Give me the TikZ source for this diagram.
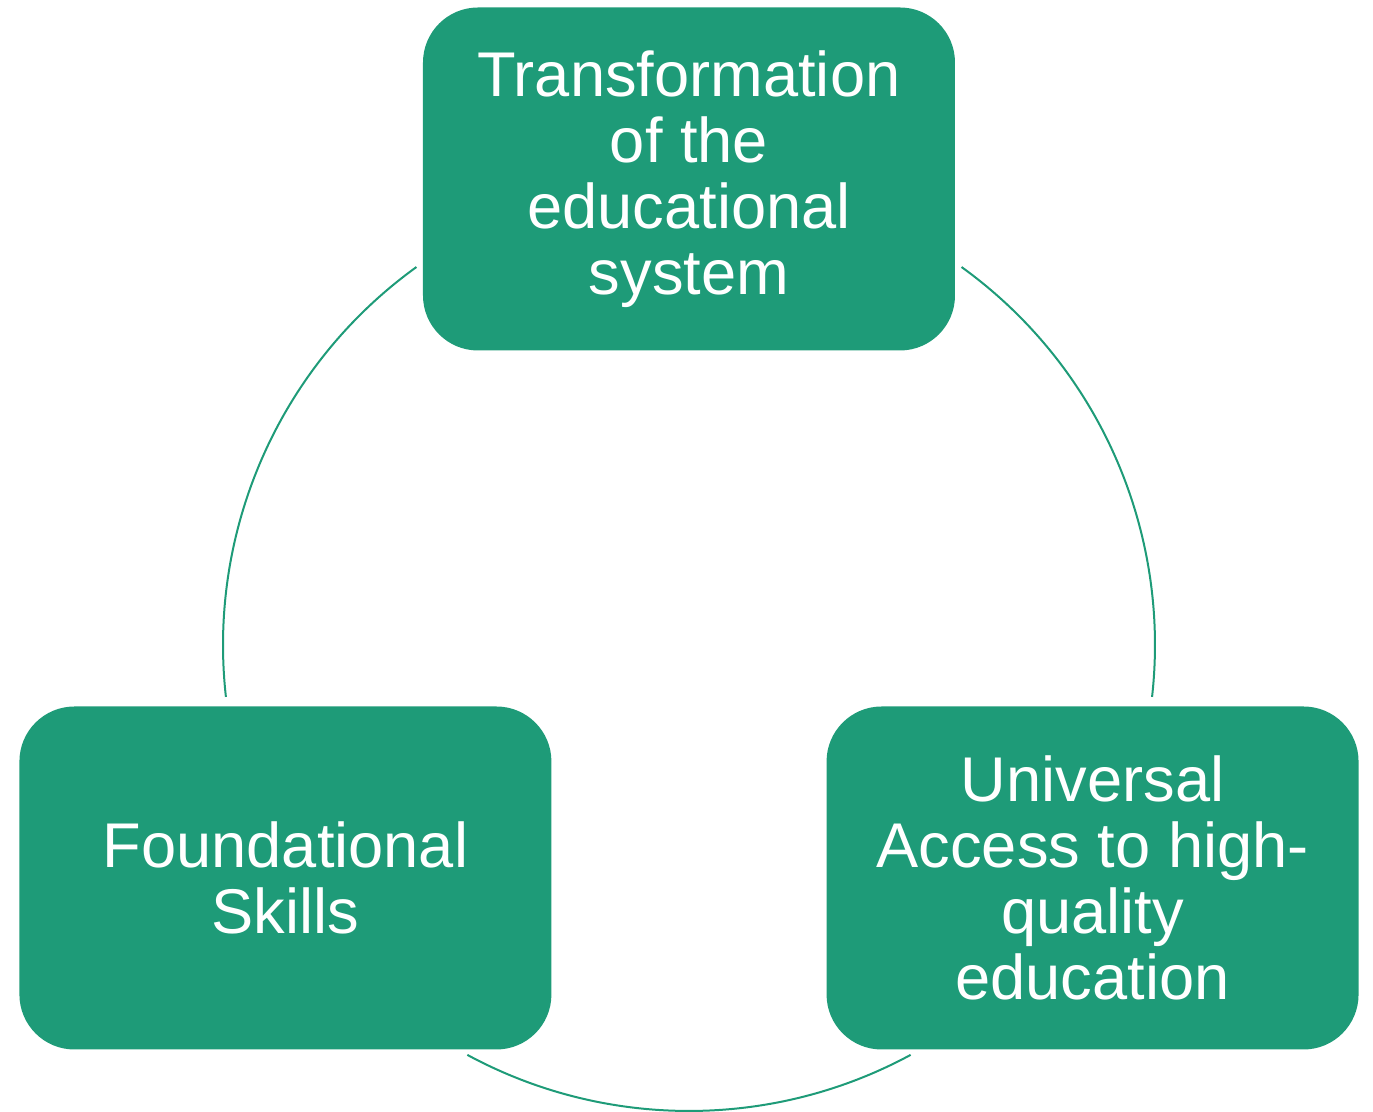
\documentclass[tikz,border=0pt]{standalone}
\usepackage{fontspec}
\setmainfont{Liberation Sans}
\usetikzlibrary{positioning}
\definecolor{cyclegreen}{HTML}{1E9B78}
\tikzset{
  cyclebox/.style={fill=cyclegreen, text=white, rounded corners=27.5pt,
    minimum width=266pt, minimum height=171.5pt, inner sep=0pt,
    align=center, font=\fontsize{31.6}{33}\selectfont},
  cyclearc/.style={draw=cyclegreen, line width=1pt}
}
\begin{document}
\begin{tikzpicture}
\newcommand\R{233pt}
\useasboundingbox (-344.5pt,-233.5pt) rectangle (342pt,322.5pt);
\coordinate (ctr) at (0,0);

% the three stages
\node[cyclebox] (system) at (90:\R) {Transformation\\of the\\educational\\system};
\node[cyclebox] (skills) at (210:\R) {Foundational\\Skills};
\node[cyclebox] (access) at (330:\R) {Universal\\Access to high-\\quality\\education};

% arcs of the cycle
\draw[cyclearc] (ctr) ++(125.8:\R) arc[start angle=125.8, end angle=186.4, radius=\R];
\draw[cyclearc] (ctr) ++(54.2:\R) arc[start angle=54.2, end angle=-6.4, radius=\R];
\draw[cyclearc] (ctr) ++(241.6:\R) arc[start angle=241.6, end angle=298.4, radius=\R];
\end{tikzpicture}
\end{document}
